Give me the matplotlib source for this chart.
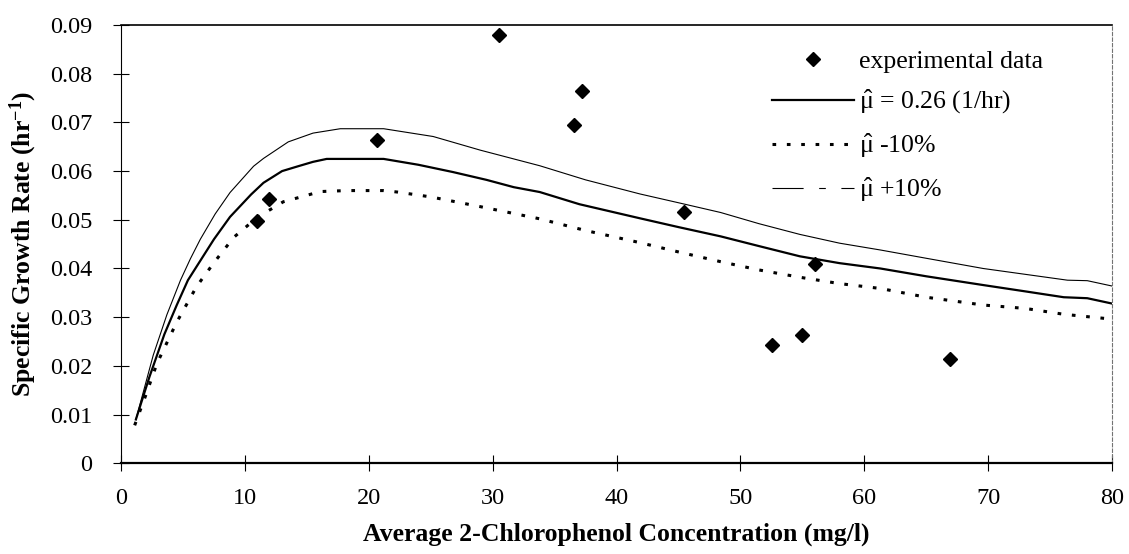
import numpy as np
import matplotlib
matplotlib.use('Agg')
import matplotlib.pyplot as plt
from matplotlib.lines import Line2D

plt.rcParams['font.family'] = ['Liberation Serif', 'DejaVu Serif']
plt.rcParams['mathtext.fontset'] = 'custom'
plt.rcParams['mathtext.rm'] = 'Liberation Serif'
plt.rcParams['mathtext.it'] = 'Liberation Serif:italic'
plt.rcParams['mathtext.bf'] = 'Liberation Serif:bold'
plt.rcParams['mathtext.default'] = 'regular'

# experimental points
exp_x = [10.96, 11.98, 20.65, 30.53, 37.24, 36.59, 45.42, 55.98, 54.98, 52.56, 66.9]
exp_y = [0.0497, 0.0543, 0.0663, 0.0880, 0.0764, 0.0694, 0.0517, 0.0409, 0.0263, 0.0243, 0.0215]

# model curve, mu_hat = 0.26 1/hr
fit_x = [1.2, 2.3, 3.5, 4.5, 5.4, 6.5, 7.5, 8.8, 10.5, 11.5, 13.0, 14.3, 15.5, 16.6, 21.2,
         24.0, 26.8, 29.5, 31.7, 33.8, 37.0, 41.9, 45.0, 48.4, 51.5, 54.8, 58.0, 61.3,
         65.0, 69.6, 73.0, 76.1, 78.0, 80.0]
fit_y = [0.0090, 0.0178, 0.0265, 0.0325, 0.0376, 0.0420, 0.0460, 0.0506, 0.0552, 0.0576,
         0.0600, 0.0610, 0.0619, 0.0625, 0.0625, 0.0613, 0.0598, 0.0582, 0.0567, 0.0557,
         0.0532, 0.0503, 0.0485, 0.0466, 0.0446, 0.0425, 0.0411, 0.0400, 0.0384, 0.0366,
         0.0353, 0.0341, 0.0339, 0.0328]

# mu_hat +10%
hi_x = [1.2, 2.6, 3.7, 4.8, 5.6, 6.4, 7.6, 8.8, 10.7, 11.5, 13.5, 15.5, 17.7, 21.2, 25.2,
        29.0, 33.8, 37.5, 41.9, 45.0, 48.4, 51.5, 54.8, 58.0, 61.3, 65.0, 69.6, 73.0,
        76.4, 78.0, 80.0]
hi_y = [0.0090, 0.0222, 0.0305, 0.0376, 0.0420, 0.0460, 0.0512, 0.0556, 0.0610, 0.0626,
        0.0660, 0.0678, 0.0687, 0.0687, 0.0671, 0.0643, 0.0611, 0.0582, 0.0553, 0.0535,
        0.0515, 0.0492, 0.0470, 0.0452, 0.0438, 0.0421, 0.0400, 0.0388, 0.0376, 0.0375,
        0.0364]

# mu_hat -10%
lo_x = [1.1, 2.0, 2.9, 4.5, 6.1, 7.5, 9.1, 11.0, 13.1, 16.1, 18.2, 21.2, 22.3, 25.0, 29.0,
        33.8, 37.5, 41.9, 45.0, 48.4, 51.5, 54.8, 58.0, 61.3, 65.0, 69.6, 73.0, 76.1, 80.0]
lo_y = [0.0078, 0.0140, 0.0205, 0.0290, 0.0363, 0.0412, 0.0464, 0.0505, 0.0537, 0.0558,
        0.0560, 0.0560, 0.0557, 0.0547, 0.0527, 0.0502, 0.0478, 0.0453, 0.0434, 0.0414,
        0.0397, 0.0382, 0.0369, 0.0359, 0.0341, 0.0325, 0.0318, 0.0306, 0.0296]

x_ticks = [0, 10, 20, 30, 40, 50, 60, 70, 80]
y_ticks = [0, 0.01, 0.02, 0.03, 0.04, 0.05, 0.06, 0.07, 0.08, 0.09]
y_tick_labels = ['0', '0.01', '0.02', '0.03', '0.04', '0.05', '0.06', '0.07', '0.08', '0.09']

fig = plt.figure(figsize=(11.29, 5.54), dpi=100)
ax = fig.add_axes([0.1072, 0.1637, 0.8778, 0.7912])

ax.plot(hi_x, hi_y, color='black', lw=0.8)
ax.plot(fit_x, fit_y, color='black', lw=1.6)
ax.plot(lo_x, lo_y, color='black', lw=2.2, linestyle=(0, (1.2, 3.5)))
ax.plot(exp_x, exp_y, linestyle='none', marker='D', ms=7.5, color='black')

ax.set_xlim(0, 80)
ax.set_ylim(0, 0.09)
ax.set_xticks(x_ticks)
ax.set_yticks(y_ticks)
ax.set_yticklabels(y_tick_labels)
ax.tick_params(axis='both', direction='inout', length=11, width=0.8, labelsize=17.5, pad=12)
ax.tick_params(axis='y', pad=15)

ax.spines['top'].set_linewidth(1.2)
ax.spines['bottom'].set_linewidth(1.6)
ax.spines['left'].set_linewidth(0.8)
ax.spines['right'].set_linewidth(0.8)
ax.spines['right'].set_color('0.45')
ax.spines['right'].set_linestyle((0, (3, 2)))

ax.set_xlabel('Average 2-Chlorophenol Concentration (mg/l)', fontsize=18.5, fontweight='bold', labelpad=10)
ax.set_ylabel(r'Specific Growth Rate (hr$^{\mathbf{-1}}$)', fontsize=18.5, fontweight='bold', labelpad=8)

handles = [
    Line2D([], [], linestyle='none', marker='D', ms=7.5, color='black'),
    Line2D([], [], color='black', lw=1.6),
    Line2D([], [], color='black', lw=2.2, linestyle=(0, (1.2, 3.5))),
    Line2D([], [], color='black', lw=0.8, linestyle=(0, (28, 14, 6, 14, 28))),
]
labels = ['experimental data', r'$\hat{\mu}$ = 0.26 (1/hr)', r'$\hat{\mu}$ -10%', r'$\hat{\mu}$ +10%']
fig.legend(handles, labels, loc='upper left', bbox_to_anchor=(772 / 1129, 1 - 50 / 554),
           frameon=False, fontsize=18.5, handlelength=3.2, handletextpad=0.2,
           labelspacing=0.6, borderpad=0, borderaxespad=0)

fig.savefig('out.png', dpi=100)
